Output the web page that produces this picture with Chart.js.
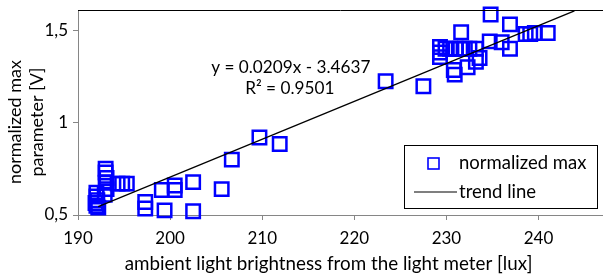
<!DOCTYPE html>
<html>
<head>
<meta charset="utf-8">
<script src="https://cdn.jsdelivr.net/npm/chart.js@4/dist/chart.umd.min.js"></script>
<style>
  html, body { margin: 0; padding: 0; background: #fff; }
  #wrap { width: 603px; height: 277px; position: relative; }
</style>
</head>
<body>
<div id="wrap"><canvas id="c" width="603" height="277"></canvas></div>
<script>
// ---- data ----
const brightness = [
  192.0, 192.0, 192.1, 191.9, 192.0, 192.2,
  193.0, 193.0, 193.1, 193.0, 193.1, 192.9,
  194.3, 194.8, 195.3,
  197.3, 197.3,
  199.1, 200.5, 200.5, 199.4,
  202.5, 202.5, 205.6, 206.7, 209.7, 211.9,
  223.4, 227.5,
  229.3, 229.3, 229.3, 229.9, 230.4, 231.0, 231.5, 232.0, 232.5, 233.2,
  230.8, 230.9, 232.3, 233.2, 233.6,
  231.6, 234.8, 234.7, 236.0, 236.9, 236.9,
  238.6, 239.1, 239.6, 241.0
];
const normalizedMax = [
  0.62, 0.60, 0.58, 0.565, 0.55, 0.54,
  0.75, 0.73, 0.70, 0.675, 0.64, 0.61,
  0.67, 0.67, 0.67,
  0.57, 0.535,
  0.635, 0.66, 0.635, 0.525,
  0.678, 0.52, 0.64, 0.80, 0.92, 0.884,
  1.224, 1.197,
  1.41, 1.38, 1.355, 1.40, 1.40, 1.40, 1.40, 1.40, 1.40, 1.40,
  1.285, 1.26, 1.30, 1.33, 1.35,
  1.49, 1.586, 1.44, 1.435, 1.40, 1.532,
  1.48, 1.48, 1.485, 1.485
];
const trendX = [192.2, 243.9];
const trendY = [0.545, 1.605];
const xTicks = [190, 200, 210, 220, 230, 240];
const yTicks = [0.5, 1, 1.5];
const seriesNames = ['normalized max', 'trend line'];
const xTitle = 'ambient light brightness from the light meter [lux]';
const yTitle = ['normalized max', 'parameter [V]'];
const equationLines = ['y = 0.0209x - 3.4637', 'R² = 0.9501'];
const equationAnchor = [213.1, 1.30];

const FONT = 'Lato, "Liberation Sans", sans-serif';
const BLUE = 'rgb(0,0,255)';
const AXIS = '#868686';

const points = brightness.map((x, i) => ({x: x, y: normalizedMax[i]}));
const trend = trendX.map((x, i) => ({x: x, y: trendY[i]}));

const extras = {
  id: 'extras',
  afterDraw(chart) {
    const ctx = chart.ctx;
    const a = chart.chartArea;
    const xs = chart.scales.x, ys = chart.scales.y;
    ctx.save();
    // top frame line
    ctx.strokeStyle = '#000';
    ctx.lineWidth = 1;
    ctx.beginPath();
    ctx.moveTo(a.left, a.top + 0.5);
    ctx.lineTo(a.right, a.top + 0.5);
    ctx.stroke();
    // axis titles
    ctx.fillStyle = '#000';
    ctx.textAlign = 'center';
    ctx.textBaseline = 'middle';
    ctx.font = '18.8px ' + FONT;
    ctx.fillText(xTitle, 328.5, 264);
    ctx.font = '18px ' + FONT;
    ctx.save();
    ctx.translate(15, 122);
    ctx.rotate(-Math.PI / 2);
    ctx.fillText(yTitle[0], 0, 0);
    ctx.fillText(yTitle[1], 0, 22);
    ctx.restore();
    // equation text
    ctx.font = '17.2px ' + FONT;
    const ex = xs.getPixelForValue(equationAnchor[0]);
    const ey = ys.getPixelForValue(equationAnchor[1]);
    ctx.fillText(equationLines[0], ex, ey);
    ctx.fillText(equationLines[1], ex - 1, ey + 21);
    // legend box
    const L = a.right - 199, T = a.top + 135, W = 193, H = 63;
    ctx.fillStyle = '#fff';
    ctx.fillRect(L, T, W, H);
    ctx.strokeStyle = '#000';
    ctx.lineWidth = 1;
    ctx.strokeRect(L + 0.5, T + 0.5, W, H);
    // marker
    ctx.strokeStyle = BLUE;
    ctx.lineWidth = 1.6;
    ctx.strokeRect(L + 24, T + 13, 11, 11);
    ctx.fillStyle = '#000';
    ctx.textAlign = 'left';
    ctx.font = '18.5px ' + FONT;
    ctx.fillText(seriesNames[0], L + 55, T + 18);
    // line sample
    ctx.strokeStyle = '#000';
    ctx.lineWidth = 1.2;
    ctx.beginPath();
    ctx.moveTo(L + 10, T + 47);
    ctx.lineTo(L + 53, T + 47);
    ctx.stroke();
    ctx.fillText(seriesNames[1], L + 55, T + 47);
    ctx.restore();
  }
};

new Chart(document.getElementById('c'), {
  type: 'scatter',
  data: {
    datasets: [
      {
        label: seriesNames[0],
        data: points,
        pointStyle: 'rect',
        pointRadius: 9.5,
        pointHoverRadius: 9.5,
        pointBorderWidth: 2.5,
        pointBorderColor: BLUE,
        pointBackgroundColor: 'rgba(0,0,0,0)',
        borderColor: BLUE,
        clip: false,
        order: 2
      },
      {
        label: seriesNames[1],
        type: 'line',
        data: trend,
        showLine: true,
        borderColor: '#000',
        borderWidth: 1.3,
        pointRadius: 0,
        fill: false,
        clip: false,
        order: 1
      }
    ]
  },
  options: {
    responsive: false,
    animation: false,
    events: [],
    layout: { padding: { top: 10, left: 0, right: 0, bottom: 0 }, autoPadding: false },
    plugins: { legend: { display: false }, tooltip: { enabled: false } },
    scales: {
      x: {
        type: 'linear',
        min: 190,
        max: 247,
        afterBuildTicks: s => { s.ticks = xTicks.map(v => ({value: v})); },
        afterFit: s => { s.height = 62; s.paddingLeft = 0; s.paddingRight = 0; },
        border: { color: AXIS, width: 1 },
        grid: { display: true, drawOnChartArea: false, drawTicks: true, tickLength: 5, color: AXIS },
        ticks: { color: '#000', font: { family: FONT, size: 17 }, padding: 8, maxRotation: 0, autoSkip: false },
        title: { display: false }
      },
      y: {
        type: 'linear',
        min: 0.5,
        max: 1.61,
        afterBuildTicks: s => { s.ticks = yTicks.map(v => ({value: v})); },
        afterFit: s => { s.width = 78; s.paddingTop = 0; s.paddingBottom = 0; },
        border: { color: AXIS, width: 1 },
        grid: { display: true, drawOnChartArea: false, drawTicks: true, tickLength: 5, color: AXIS },
        ticks: {
          color: '#000',
          font: { family: FONT, size: 17 },
          padding: 5,
          autoSkip: false,
          callback: v => String(v).replace('.', ',')
        },
        title: { display: false }
      }
    }
  },
  plugins: [extras]
});
</script>
</body>
</html>
